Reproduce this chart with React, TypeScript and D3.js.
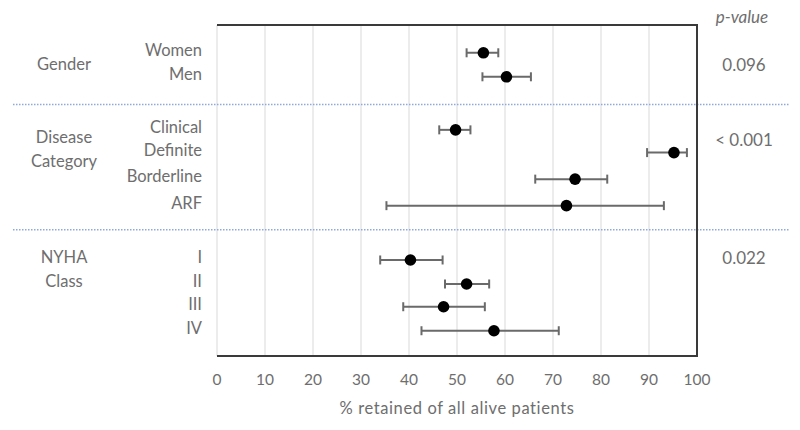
import React from "react";
import * as d3 from "d3";

const rowLabels = ["Women", "Men", "Clinical", "Definite", "Borderline", "ARF", "I", "II", "III", "IV"];
const rowSlots = [0, 0.95, 3.05, 3.95, 5, 6.05, 8.2, 9.15, 10.05, 11];
const estimates = [55.5, 60.3, 49.7, 95.2, 74.6, 72.8, 40.3, 52.0, 47.2, 57.7];
const lower = [52.0, 55.3, 46.3, 89.6, 66.3, 35.3, 34.0, 47.5, 38.8, 42.6];
const upper = [58.6, 65.4, 52.8, 97.9, 81.3, 93.1, 47.0, 56.7, 55.8, 71.2];

const groupNames = [["Gender"], ["Disease", "Category"], ["NYHA", "Class"]];
const groupSlots = [0.45, 3.8, 8.55];
const pValues = ["0.096", "< 0.001", "0.022"];
const pSlots = [0.55, 3.5, 8.2];
const separatorSlots = [2.05, 7.0];
const xTicks = [0, 10, 20, 30, 40, 50, 60, 70, 80, 90, 100];

export default function App() {
  const W = 800, H = 430;
  const left = 217, right = 697, top = 25, bottom = 356;
  const x = d3.scaleLinear().domain([0, 100]).range([left, right]);
  const y = d3.scaleLinear().domain([-1.1, 12]).range([top, bottom]);
  const font = "Lato, 'Open Sans', sans-serif";
  const textColor = "#6e6e6e";
  const barColor = "#6a6a6a";
  const cap = 4.5;

  return (
    <svg width={W} height={H} style={{ position: "absolute", left: 0, top: 0, background: "#fff" }}>
      {xTicks.map((t) => (
        <line key={"g" + t} x1={x(t)} x2={x(t)} y1={top} y2={bottom} stroke="#d9d9d9" strokeWidth={1} />
      ))}
      {separatorSlots.map((s, i) => (
        <line key={"s" + i} x1={13} x2={789} y1={y(s)} y2={y(s)} stroke="#8eaadb" strokeWidth={1.5} strokeDasharray="1.5,1.5" />
      ))}
      <path d={`M${x(0)},${top}H${x(100)}V${bottom}H${x(0)}`} fill="none" stroke="#3a3a3a" strokeWidth={2} />
      {rowLabels.map((lab, i) => (
        <g key={lab}>
          <line x1={x(lower[i])} x2={x(upper[i])} y1={y(rowSlots[i])} y2={y(rowSlots[i])} stroke={barColor} strokeWidth={2} />
          <line x1={x(lower[i])} x2={x(lower[i])} y1={y(rowSlots[i]) - cap} y2={y(rowSlots[i]) + cap} stroke={barColor} strokeWidth={2} />
          <line x1={x(upper[i])} x2={x(upper[i])} y1={y(rowSlots[i]) - cap} y2={y(rowSlots[i]) + cap} stroke={barColor} strokeWidth={2} />
          <circle cx={x(estimates[i])} cy={y(rowSlots[i])} r={5.8} fill="#000" />
          <text x={202} y={y(rowSlots[i]) - 1} textAnchor="end" dominantBaseline="middle" fontFamily={font} fontSize={16.5} fill={textColor}>
            {lab}
          </text>
        </g>
      ))}
      {groupNames.map((lines, i) => (
        <text key={"gn" + i} x={64} y={y(groupSlots[i])} textAnchor="middle" fontFamily={font} fontSize={16.5} fill={textColor}>
          {lines.map((l, j) => (
            <tspan key={j} x={64} dy={j === 0 ? (lines.length === 1 ? 6 : -6) : 24}>
              {l}
            </tspan>
          ))}
        </text>
      ))}
      <text x={742} y={19} textAnchor="middle" dominantBaseline="middle" fontFamily={font} fontStyle="italic" fontSize={17} fill={textColor}>
        p-value
      </text>
      {pValues.map((p, i) => (
        <text key={"p" + i} x={744} y={y(pSlots[i])} textAnchor="middle" dominantBaseline="middle" fontFamily={font} fontSize={17} fill={textColor}>
          {p}
        </text>
      ))}
      {xTicks.map((t) => (
        <text key={"t" + t} x={x(t)} y={381} textAnchor="middle" dominantBaseline="middle" fontFamily={font} fontSize={15.5} fill={textColor}>
          {t}
        </text>
      ))}
      <text x={457} y={410} textAnchor="middle" dominantBaseline="middle" fontFamily={font} fontSize={16.5} letterSpacing={0.6} fill={textColor}>
        % retained of all alive patients
      </text>
    </svg>
  );
}
